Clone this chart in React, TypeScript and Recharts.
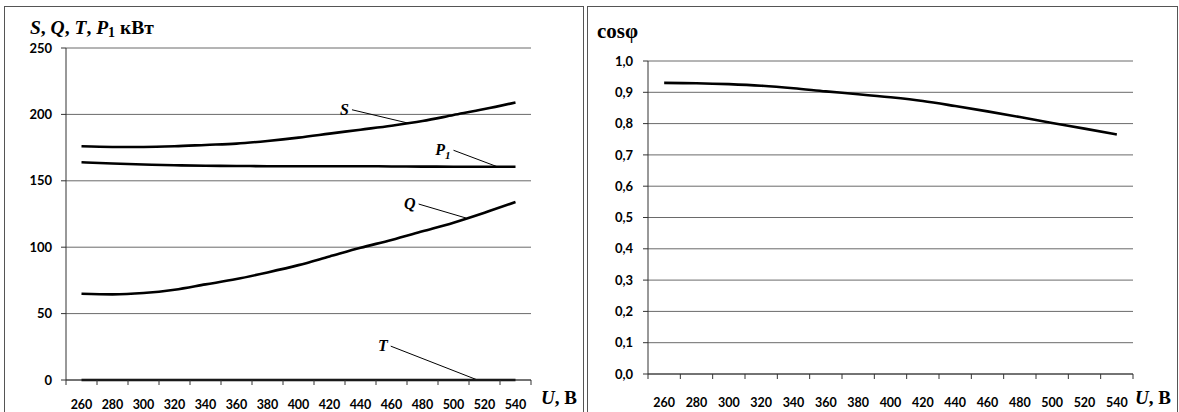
import React from 'react';
import { LineChart, Line, XAxis, YAxis, CartesianGrid, ReferenceLine, ReferenceDot } from 'recharts';

// Supply voltage U, V
const voltage = [260, 280, 300, 320, 340, 360, 380, 400, 420, 440, 460, 480, 500, 520, 540];

// Powers, kW
const sValues = [176, 175.5, 175.5, 176, 177, 178, 180, 182.5, 185.5, 188.5, 191.5, 195, 199.5, 204, 209];
const p1Values = [164, 163, 162.3, 161.7, 161.3, 161.2, 161, 161, 161, 161, 160.8, 160.7, 160.6, 160.6, 160.6];
const qValues = [65, 64.5, 65.5, 68, 72, 76, 81, 86.5, 93, 99.5, 105.5, 112, 118.5, 126, 134];
const tValues = [0, 0, 0, 0, 0, 0, 0, 0, 0, 0, 0, 0, 0, 0, 0];

// Power factor
const cosValues = [0.93, 0.929, 0.926, 0.921, 0.913, 0.903, 0.894, 0.884, 0.872, 0.856, 0.839, 0.821, 0.802, 0.784, 0.765];

const xTicks = [250, 260, 270, 280, 290, 300, 310, 320, 330, 340, 350, 360, 370, 380, 390, 400,
  410, 420, 430, 440, 450, 460, 470, 480, 490, 500, 510, 520, 530, 540, 550];
const powerTicks = [0, 50, 100, 150, 200, 250];
const cosTicks = [0, 0.1, 0.2, 0.3, 0.4, 0.5, 0.6, 0.7, 0.8, 0.9, 1.0];

const powerData = voltage.map((u, i) => ({ u, s: sValues[i], p1: p1Values[i], q: qValues[i], t: tValues[i] }));
const cosData = voltage.map((u, i) => ({ u, cos: cosValues[i] }));

// curve callouts: label anchor and leader line, in data units
const callouts = [
  { name: 'S', sub: '', from: [434.5, 203.5], to: [470.5, 193.5] },
  { name: 'P', sub: '1', from: [500, 173], to: [528, 160.7] },
  { name: 'Q', sub: '', from: [477.5, 132.5], to: [508, 122] },
  { name: 'T', sub: '', from: [459.5, 25.5], to: [515.5, 0] },
];

const AXIS = '#333';
const GRID = '#6a6a6a';
const TICK_FONT = 'Lato, "Open Sans", sans-serif';
const SERIF = '"Liberation Serif", "DejaVu Serif", serif';

const XTick = (props: any) => {
  const { x, y, payload, textDy } = props;
  const v = payload.value;
  if ((v - 250) % 20 === 0) {
    return <line x1={x} x2={x} y1={y} y2={y + 5} stroke={AXIS} strokeWidth={1} />;
  }
  return (
    <text x={x} y={y + textDy} textAnchor="middle" fontFamily={TICK_FONT} fontWeight={700} fontSize={12.5} fill="#000">
      {v}
    </text>
  );
};

const CalloutLabel = (props: any) => {
  const { cx, cy, name, sub } = props;
  return (
    <text x={cx - 3} y={cy + 5} textAnchor="end" fontFamily={SERIF} fontWeight={700} fontStyle="italic" fontSize={16} fill="#000">
      {name}
      {sub && <tspan fontSize={11} dy={4}>{sub}</tspan>}
    </text>
  );
};

const yTick = { fill: '#000', fontSize: 13, fontWeight: 700, fontFamily: TICK_FONT };

export default function App() {
  return (
    <div style={{ position: 'absolute', left: 0, top: 0, width: 1179, height: 412, overflow: 'hidden', background: '#fff' }}>
      <div style={{ position: 'absolute', left: 4, top: 6, width: 578, height: 420, border: '1px solid #555' }} />
      <div style={{ position: 'absolute', left: 587, top: 6, width: 589, height: 420, border: '1px solid #555' }} />

      <div style={{ position: 'absolute', left: 0, top: 0 }}>
        <LineChart width={583} height={412} data={powerData} margin={{ top: 48, right: 52, left: 26, bottom: 2 }}>
          <CartesianGrid vertical={false} stroke={GRID} />
          <XAxis
            dataKey="u"
            type="number"
            domain={[250, 550]}
            ticks={xTicks}
            interval={0}
            tickSize={0}
            tickMargin={0}
            tickLine={false}
            height={30}
            stroke={AXIS}
            tick={(p: any) => <XTick {...p} textDy={29} />}
          />
          <YAxis
            domain={[0, 250]}
            ticks={powerTicks}
            interval={0}
            width={40}
            tickSize={5}
            tickMargin={9}
            stroke={AXIS}
            tick={yTick}
          />
          <Line type="monotone" dataKey="s" stroke="#000" strokeWidth={2.6} dot={false} isAnimationActive={false} />
          <Line type="monotone" dataKey="p1" stroke="#000" strokeWidth={2.6} dot={false} isAnimationActive={false} />
          <Line type="monotone" dataKey="q" stroke="#000" strokeWidth={2.6} dot={false} isAnimationActive={false} />
          <Line type="monotone" dataKey="t" stroke="#000" strokeWidth={2.6} dot={false} isAnimationActive={false} />
          {callouts.map((c) => (
            <ReferenceLine
              key={`l-${c.name}`}
              segment={[{ x: c.from[0], y: c.from[1] }, { x: c.to[0], y: c.to[1] }]}
              stroke="#000"
              strokeWidth={1}
            />
          ))}
          {callouts.map((c) => (
            <ReferenceDot
              key={`d-${c.name}`}
              x={c.from[0]}
              y={c.from[1]}
              r={0}
              shape={(p: any) => <CalloutLabel {...p} name={c.name} sub={c.sub} />}
            />
          ))}
        </LineChart>
      </div>

      <div style={{ position: 'absolute', left: 588, top: 0 }}>
        <LineChart width={589} height={412} data={cosData} margin={{ top: 61, right: 44, left: 20, bottom: 8 }}>
          <CartesianGrid vertical={false} stroke={GRID} />
          <XAxis
            dataKey="u"
            type="number"
            domain={[250, 550]}
            ticks={xTicks}
            interval={0}
            tickSize={0}
            tickMargin={0}
            tickLine={false}
            height={30}
            stroke={AXIS}
            tick={(p: any) => <XTick {...p} textDy={33} />}
          />
          <YAxis
            domain={[0, 1]}
            ticks={cosTicks}
            interval={0}
            width={40}
            tickSize={5}
            tickMargin={10}
            stroke={AXIS}
            tick={yTick}
            tickFormatter={(v: number) => v.toFixed(1).replace('.', ',')}
          />
          <Line type="monotone" dataKey="cos" stroke="#000" strokeWidth={2.6} dot={false} isAnimationActive={false} />
        </LineChart>
      </div>

      <svg width={1179} height={412} style={{ position: 'absolute', left: 0, top: 0, pointerEvents: 'none' }}>
        <text x={30} y={34} fontFamily={SERIF} fontWeight={700} fontSize={19.5} fill="#000">
          <tspan fontStyle="italic">S</tspan>, <tspan fontStyle="italic">Q</tspan>, <tspan fontStyle="italic">T</tspan>,{' '}
          <tspan fontStyle="italic">P</tspan>
          <tspan fontSize={14} dy={3}>1</tspan>
          <tspan dy={-3}> кВт</tspan>
        </text>
        <text x={597} y={38} fontFamily={SERIF} fontWeight={700} fontSize={21} fill="#000">cosφ</text>
        <text x={541} y={404} fontFamily={SERIF} fontWeight={700} fontSize={19} fill="#000">
          <tspan fontStyle="italic">U</tspan>, B
        </text>
        <text x={1135} y={404} fontFamily={SERIF} fontWeight={700} fontSize={19} fill="#000">
          <tspan fontStyle="italic">U</tspan>, B
        </text>
      </svg>
    </div>
  );
}
